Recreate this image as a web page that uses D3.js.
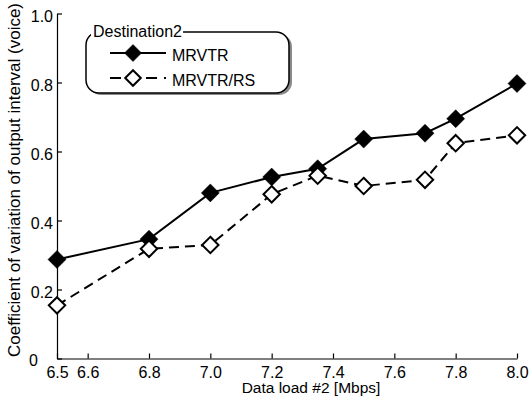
<!DOCTYPE html>
<html>
<head>
<meta charset="utf-8">
<script src="https://cdn.jsdelivr.net/npm/d3@7"></script>
<style>
  html, body { margin: 0; padding: 0; background: #fff; }
  svg { display: block; font-family: "Liberation Sans", Arial, Helvetica, sans-serif; }
</style>
</head>
<body>
<svg id="chart" width="529" height="404"></svg>
<script>
// Data load #2 [Mbps] at each measurement
const loads = [6.5, 6.8, 7.0, 7.2, 7.35, 7.5, 7.7, 7.8, 8.0];
// Coefficient of variation of output interval (voice), Destination2
const mrvtr   = [0.287, 0.346, 0.480, 0.526, 0.550, 0.636, 0.653, 0.695, 0.797];
const mrvtrRs = [0.154, 0.318, 0.329, 0.476, 0.530, 0.500, 0.518, 0.624, 0.647];
const seriesNames = ["MRVTR", "MRVTR/RS"];
const xTicks = [6.5, 6.6, 6.8, 7.0, 7.2, 7.4, 7.6, 7.8, 8.0];
const yTicks = [0, 0.2, 0.4, 0.6, 0.8, 1.0];
const legendTitle = "Destination2";

const svg = d3.select("#chart");
const x = d3.scaleLinear().domain([6.5, 8.0]).range([57, 517]);
const y = d3.scaleLinear().domain([0, 1.0]).range([358.5, 13.5]);

// x axis: ticks point inward (upward)
const xAxis = svg.append("g").attr("transform", `translate(0,${y(0)})`)
  .call(d3.axisBottom(x).tickValues(xTicks).tickSizeInner(-5).tickSizeOuter(0)
    .tickFormat(d => d.toFixed(1)));
xAxis.select(".domain").attr("stroke", "#000").attr("stroke-width", 1.2);
xAxis.selectAll(".tick line").attr("stroke", "#000").attr("stroke-width", 1.2);
xAxis.selectAll(".tick text")
  .attr("y", 19).attr("dy", 0)
  .attr("font-size", 16).attr("fill", "#000")
  .attr("font-family", "Liberation Sans, Arial, sans-serif");

// y axis: ticks point inward (rightward)
const yAxis = svg.append("g").attr("transform", `translate(${x(6.5)},0)`)
  .call(d3.axisLeft(y).tickValues(yTicks).tickSizeInner(-5).tickSizeOuter(0)
    .tickFormat(d => d === 0 ? "0" : d.toFixed(1)));
yAxis.select(".domain").attr("stroke", "#000").attr("stroke-width", 1.2);
yAxis.selectAll(".tick line").attr("stroke", "#000").attr("stroke-width", 1.2);
yAxis.selectAll(".tick text")
  .attr("x", -4).attr("dy", "0.5em")
  .attr("font-size", 16).attr("fill", "#000")
  .attr("font-family", "Liberation Sans, Arial, sans-serif");
// the zero label sits down and left, clear of the first x label
yAxis.selectAll(".tick text").filter(d => d === 0)
  .attr("x", -19).attr("dy", "0.45em");

// axis titles
svg.append("text")
  .attr("x", 311).attr("y", 393)
  .attr("text-anchor", "middle").attr("font-size", 15.5)
  .text("Data load #2 [Mbps]");
svg.append("text")
  .attr("transform", "translate(20,180) rotate(-90)")
  .attr("text-anchor", "middle").attr("font-size", 17)
  .text("Coefficient of variation of output interval (voice)");

// diamond marker path centred at 0,0
const diamond = r => `M0,${-r}L${r},0L0,${r}L${-r},0Z`;

const series = [
  { name: seriesNames[0], values: mrvtr, dash: null, fill: "#000" },
  { name: seriesNames[1], values: mrvtrRs, dash: "10,6", fill: "#fff" }
];

const line = d3.line().x(d => x(d[0])).y(d => y(d[1]));

series.forEach(s => {
  const pts = loads.map((l, i) => [l, s.values[i]]);
  svg.append("path")
    .datum(pts)
    .attr("d", line)
    .attr("fill", "none")
    .attr("stroke", "#000")
    .attr("stroke-width", 2)
    .attr("stroke-dasharray", s.dash);
  svg.append("g").selectAll("path")
    .data(pts)
    .join("path")
    .attr("transform", d => `translate(${x(d[0])},${y(d[1])})`)
    .attr("d", diamond(s.fill === "#000" ? 9 : 8.2))
    .attr("fill", s.fill)
    .attr("stroke", "#000")
    .attr("stroke-width", s.fill === "#000" ? 0.5 : 2);
});

// legend box with drop shadow
const lg = svg.append("g");
lg.append("rect")
  .attr("x", 88).attr("y", 34).attr("width", 204).attr("height", 61)
  .attr("rx", 13).attr("fill", "#8a8a8a");
lg.append("rect")
  .attr("x", 86).attr("y", 32).attr("width", 203).attr("height", 61)
  .attr("rx", 13).attr("fill", "#fff").attr("stroke", "#000").attr("stroke-width", 1.5);
// title breaks the top border
const titleBg = lg.append("rect").attr("fill", "#fff");
const title = lg.append("text")
  .attr("x", 93).attr("y", 37)
  .attr("font-size", 16)
  .text(legendTitle);
const tb = title.node().getBBox();
titleBg.attr("x", tb.x - 2).attr("y", tb.y).attr("width", tb.width + 3).attr("height", tb.height);

const rows = [53, 78];
series.forEach((s, i) => {
  lg.append("line")
    .attr("x1", 110).attr("x2", 166).attr("y1", rows[i]).attr("y2", rows[i])
    .attr("stroke", "#000").attr("stroke-width", 2)
    .attr("stroke-dasharray", s.dash ? "11,7" : null)
    .attr("stroke-dashoffset", s.dash ? 0 : null);
  lg.append("path")
    .attr("transform", `translate(133,${rows[i]})`)
    .attr("d", diamond(s.fill === "#000" ? 8.5 : 7.8))
    .attr("fill", s.fill).attr("stroke", "#000")
    .attr("stroke-width", s.fill === "#000" ? 0.5 : 2);
  lg.append("text")
    .attr("x", 172).attr("y", rows[i] + 8)
    .attr("font-size", 16)
    .text(s.name);
});
</script>
</body>
</html>
